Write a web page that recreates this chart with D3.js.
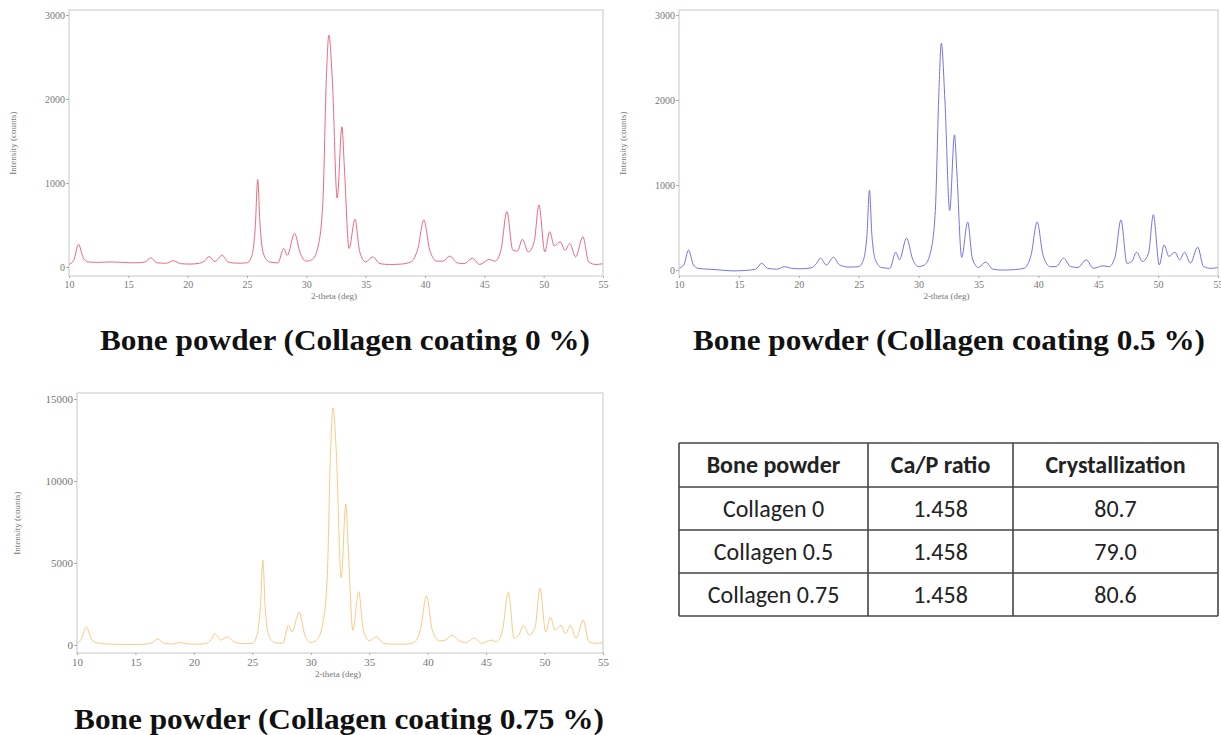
<!DOCTYPE html>
<html>
<head>
<meta charset="utf-8">
<script src="https://cdn.jsdelivr.net/npm/d3@7"></script>
<style>
  body { margin: 0; background: #fff; }
  svg { display: block; }
</style>
</head>
<body>
<svg id="chart" width="1221" height="735"></svg>
<script>
// 2-theta positions (shared grid)
const twoTheta = [10, 10.4, 10.8, 11.2, 11.6, 12.5, 13.5, 14.5, 15.5, 16.4, 16.9, 17.4, 18.2, 18.8, 19.4,
  20.2, 21.0, 21.5, 21.8, 22.3, 22.9, 23.4, 24.2, 25.0, 25.4, 25.7, 25.9, 26.1, 26.4, 26.9, 27.6,
  28.1, 28.4, 29.0, 29.5, 30.0, 30.5, 31.0, 31.4, 31.7, 31.9, 32.2, 32.6, 33.0, 33.2, 33.6, 34.1,
  34.5, 35.0, 35.6, 36.2, 37.0, 38.0, 38.8, 39.4, 39.9, 40.4, 41.0, 41.5, 42.1, 42.7, 43.3, 44.0,
  44.6, 45.4, 45.9, 46.4, 46.9, 47.4, 47.8, 48.2, 48.7, 49.2, 49.6, 50.1, 50.5, 50.9, 51.4, 51.8,
  52.2, 52.7, 53.3, 53.8, 54.4, 55.0];

// intensity (counts), collagen coating 0 %
const counts0 = [30, 80, 270, 110, 60, 55, 60, 55, 50, 60, 110, 50, 45, 75, 40,
  35, 45, 80, 125, 65, 140, 60, 45, 50, 130, 480, 1040, 500, 150, 60, 50,
  220, 140, 400, 160, 70, 90, 250, 800, 2300, 2760, 2200, 820, 1670, 1200, 220, 570,
  180, 60, 120, 40, 30, 35, 60, 220, 560, 200, 70, 70, 130, 50, 40, 105,
  30, 90, 70, 200, 660, 200, 190, 330, 180, 300, 740, 180, 420, 250, 300, 200,
  280, 120, 360, 60, 30, 40];

// collagen coating 0.5 %
const counts05 = [20, 60, 235, 60, 20, 10, 0, -10, -5, 10, 80, 20, 10, 40, 20,
  15, 25, 80, 140, 60, 150, 60, 35, 40, 120, 430, 940, 420, 120, 30, 20,
  210, 120, 375, 130, 40, 60, 210, 700, 2100, 2670, 2000, 700, 1590, 1150, 150, 565,
  130, 30, 95, 10, 0, 5, 20, 180, 565, 170, 40, 40, 140, 40, 30, 120,
  20, 50, 40, 150, 590, 80, 100, 210, 100, 200, 650, 60, 295, 160, 210, 120,
  210, 80, 270, 40, 20, 30];

// collagen coating 0.75 %
const counts075 = [100, 400, 1100, 400, 150, 60, 40, 30, 40, 120, 370, 120, 60, 150, 80,
  50, 80, 350, 700, 300, 500, 200, 80, 100, 600, 2500, 5180, 2300, 600, 150, 100,
  1200, 800, 2000, 600, 150, 300, 1200, 4000, 12000, 14450, 11500, 4100, 8600, 6000, 900, 3250,
  900, 250, 500, 100, 50, 50, 150, 1000, 3000, 900, 250, 300, 600, 250, 150, 430,
  100, 300, 200, 900, 3230, 400, 600, 1200, 600, 1100, 3470, 800, 1700, 900, 1200, 700,
  1200, 400, 1520, 200, 100, 150];

const xTicks = [10, 15, 20, 25, 30, 35, 40, 45, 50, 55];
const yTicksSmall = [0, 1000, 2000, 3000];
const yTicksLarge = [0, 5000, 10000, 15000];

const panelTitles = [
  "Bone powder (Collagen coating 0 %)",
  "Bone powder (Collagen coating 0.5 %)",
  "Bone powder (Collagen coating 0.75 %)"
];

// table
const tableHeader = ["Bone powder", "Ca/P ratio", "Crystallization"];
const samples = ["Collagen 0", "Collagen 0.5", "Collagen 0.75"];
const caPRatio = ["1.458", "1.458", "1.458"];
const crystallization = ["80.7", "79.0", "80.6"];

const svg = d3.select("#chart");

function drawPanel(p) {
  const x = d3.scaleLinear().domain([10, 55]).range([p.left, p.right]);
  const y = d3.scaleLinear().domain(p.yDomain).range([p.bottom, p.top]);
  const g = svg.append("g");

  const line = d3.line()
    .curve(d3.curveMonotoneX)
    .x((d, i) => x(twoTheta[i]))
    .y(d => y(d));

  g.append("path")
    .datum(p.values)
    .attr("fill", "none")
    .attr("stroke", p.color)
    .attr("stroke-width", 1)
    .attr("stroke-linejoin", "round")
    .attr("d", line);

  g.append("rect")
    .attr("x", p.left).attr("y", p.top)
    .attr("width", p.right - p.left).attr("height", p.bottom - p.top)
    .attr("fill", "none").attr("stroke", "#cfcfcf").attr("stroke-width", 1.2);

  const xa = g.append("g")
    .attr("transform", `translate(0,${p.bottom})`)
    .call(d3.axisBottom(x).tickValues(xTicks).tickSize(2).tickPadding(3));
  const ya = g.append("g")
    .attr("transform", `translate(${p.left},0)`)
    .call(d3.axisLeft(y).tickValues(p.yTicks).tickFormat(d3.format("d")).tickSize(3).tickPadding(1));

  [xa, ya].forEach(a => {
    a.select(".domain").remove();
    a.selectAll("line").attr("stroke", "#aaa");
    a.selectAll("text")
      .attr("fill", "#777")
      .style("font-family", "'Liberation Serif', serif")
      .style("font-size", p.tickFont + "px");
  });

  g.append("text")
    .attr("x", (p.left + p.right) / 2 - 2)
    .attr("y", p.bottom + p.xLabelDy)
    .attr("text-anchor", "middle")
    .attr("fill", "#777")
    .style("font-family", "'Liberation Serif', serif")
    .style("font-size", "9px")
    .text("2-theta (deg)");

  g.append("text")
    .attr("transform", `translate(${p.yLabelX},${(p.top + p.bottom) / 2}) rotate(-90)`)
    .attr("text-anchor", "middle")
    .attr("fill", "#777")
    .style("font-family", "'Liberation Serif', serif")
    .style("font-size", "9px")
    .text("Intensity (counts)");

  svg.append("text")
    .attr("x", p.titleX)
    .attr("y", p.titleY)
    .attr("text-anchor", "middle")
    .attr("fill", "#111")
    .attr("textLength", p.titleW)
    .attr("lengthAdjust", "spacingAndGlyphs")
    .style("font-family", "'Liberation Serif', 'Times New Roman', serif")
    .style("font-weight", "bold")
    .style("font-size", "30px")
    .text(p.title);
}

drawPanel({
  left: 69, right: 603, top: 10, bottom: 276, yDomain: [-107, 3060], yTicks: yTicksSmall,
  values: counts0, color: "#eb6a7e", tickFont: 10, xLabelDy: 23, yLabelX: 16,
  title: panelTitles[0], titleX: 345, titleY: 350, titleW: 490
});
drawPanel({
  left: 679, right: 1218, top: 10, bottom: 276, yDomain: [-70, 3059], yTicks: yTicksSmall,
  values: counts05, color: "#7373ec", tickFont: 10, xLabelDy: 23, yLabelX: 626,
  title: panelTitles[1], titleX: 949, titleY: 350, titleW: 512
});
drawPanel({
  left: 77, right: 603, top: 393, bottom: 653, yDomain: [-488, 15366], yTicks: yTicksLarge,
  values: counts075, color: "#f8cb86", tickFont: 11, xLabelDy: 24, yLabelX: 20,
  title: panelTitles[2], titleX: 339, titleY: 729, titleW: 530
});

// ---- table ----
const colX = [679, 868, 1013, 1218];
const rowY = [443, 487, 530, 573, 616];
const tg = svg.append("g");
const rows = [tableHeader].concat(samples.map((s, i) => [s, caPRatio[i], crystallization[i]]));

rows.forEach((r, ri) => {
  r.forEach((c, ci) => {
    tg.append("text")
      .attr("x", (colX[ci] + colX[ci + 1]) / 2)
      .attr("y", (rowY[ri] + rowY[ri + 1]) / 2 + 8)
      .attr("text-anchor", "middle")
      .attr("fill", "#222")
      .style("font-family", "Carlito, Lato, sans-serif")
      .style("font-weight", ri === 0 ? "bold" : "normal")
      .style("font-size", "24px")
      .text(c);
  });
});

rowY.forEach(yy => {
  tg.append("line").attr("x1", colX[0]).attr("x2", colX[3]).attr("y1", yy).attr("y2", yy)
    .attr("stroke", "#444").attr("stroke-width", 1.6);
});
colX.forEach(xx => {
  tg.append("line").attr("x1", xx).attr("x2", xx).attr("y1", rowY[0]).attr("y2", rowY[4])
    .attr("stroke", "#444").attr("stroke-width", 1.6);
});
</script>
</body>
</html>
